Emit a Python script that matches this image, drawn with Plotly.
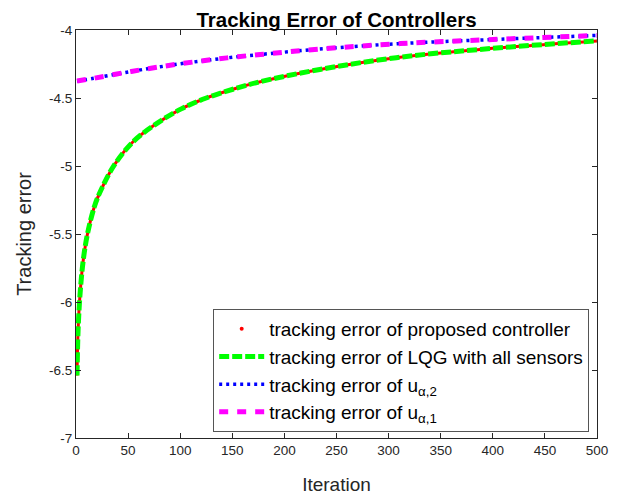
import plotly.graph_objects as go

# ---- data ----
iter_low = [1, 2, 4, 7, 11, 18, 25, 37, 55, 77, 101, 125, 153, 177, 234, 311, 400, 500]
err_proposed = [-6.54, -6.21, -5.93, -5.69, -5.50, -5.29, -5.16, -4.99, -4.82, -4.69,
                -4.58, -4.50, -4.43, -4.38, -4.29, -4.20, -4.135, -4.08]
err_lqg = list(err_proposed)

iter_up = [1, 17, 49, 81, 113, 145, 177, 234, 311, 400, 500]
err_u2 = [-4.375, -4.355, -4.31, -4.27, -4.235, -4.205, -4.18, -4.14, -4.10, -4.07, -4.04]
err_u1 = list(err_u2)

x_ticks = [0, 50, 100, 150, 200, 250, 300, 350, 400, 450, 500]
y_ticks = [-7, -6.5, -6, -5.5, -5, -4.5, -4]
y_tick_text = ["-7", "-6.5", "-6", "-5.5", "-5", "-4.5", "-4"]

names = ["tracking error of proposed controller",
         "tracking error of LQG with all sensors",
         "tracking error of u<sub>α,2</sub>",
         "tracking error of u<sub>α,1</sub>"]

FONT = "Liberation Sans, Arial, sans-serif"
AX = "#262626"

fig = go.Figure()

# red (proposed) drawn as a thin solid line under the green dashes
fig.add_trace(go.Scatter(x=iter_low, y=err_proposed, mode="lines", line_shape="spline",
                         line=dict(color="#ff0000", width=3), showlegend=False,
                         legendgroup="p"))
fig.add_trace(go.Scatter(x=[None], y=[None], mode="markers", name=names[0],
                         marker=dict(color="#ff0000", size=4), legendgroup="p",
                         legendrank=1))
fig.add_trace(go.Scatter(x=iter_low, y=err_lqg, mode="lines", line_shape="spline",
                         line=dict(color="#00ff00", width=5, dash="10px,3px"),
                         name=names[1], legendrank=2))
fig.add_trace(go.Scatter(x=iter_up, y=err_u2, mode="lines", line_shape="spline",
                         line=dict(color="#0000ff", width=3.5, dash="3px,4px"),
                         name=names[2], legendrank=3))
fig.add_trace(go.Scatter(x=iter_up, y=err_u1, mode="lines", line_shape="spline",
                         line=dict(color="#ff00ff", width=5, dash="9px,9px"),
                         name=names[3], legendrank=4))

# page body adds an 8px offset, so margins are reduced on the left/top by 8px
fig.update_layout(
    width=634, height=498,
    margin=dict(l=68, r=45, t=22, b=68, autoexpand=False),
    paper_bgcolor="white", plot_bgcolor="white",
    font=dict(family=FONT, color=AX, size=13),
    title=dict(text="<b>Tracking Error of Controllers</b>", x=0.5, xref="paper",
               xanchor="center", y=0.977, yref="container", yanchor="middle",
               font=dict(family=FONT, size=20.5, color="#000000")),
    showlegend=True,
    legend=dict(x=0.985, xanchor="right", y=0.015, yanchor="bottom",
                bgcolor="white", bordercolor="#555555", borderwidth=1,
                font=dict(family=FONT, size=19, color="#000000"),
                itemwidth=45, tracegroupgap=0),
)

fig.update_xaxes(range=[0, 500], tickvals=x_ticks, ticks="inside", ticklen=5,
                 tickcolor=AX, showline=True, linecolor=AX, linewidth=1, mirror="ticks",
                 showgrid=False, zeroline=False, automargin=False,
                 tickfont=dict(family=FONT, size=13.5, color=AX),
                 title=dict(text="Iteration", font=dict(family=FONT, size=19, color=AX),
                            standoff=20))
fig.update_yaxes(range=[-7, -4], tickvals=y_ticks, ticktext=y_tick_text, ticks="inside",
                 ticklen=5, tickcolor=AX, showline=True, linecolor=AX, linewidth=1,
                 mirror="ticks", showgrid=False, zeroline=False, automargin=False,
                 tickfont=dict(family=FONT, size=13.5, color=AX),
                 title=dict(text="Tracking error", font=dict(family=FONT, size=20, color=AX),
                            standoff=12))

fig.write_html("out.html")
